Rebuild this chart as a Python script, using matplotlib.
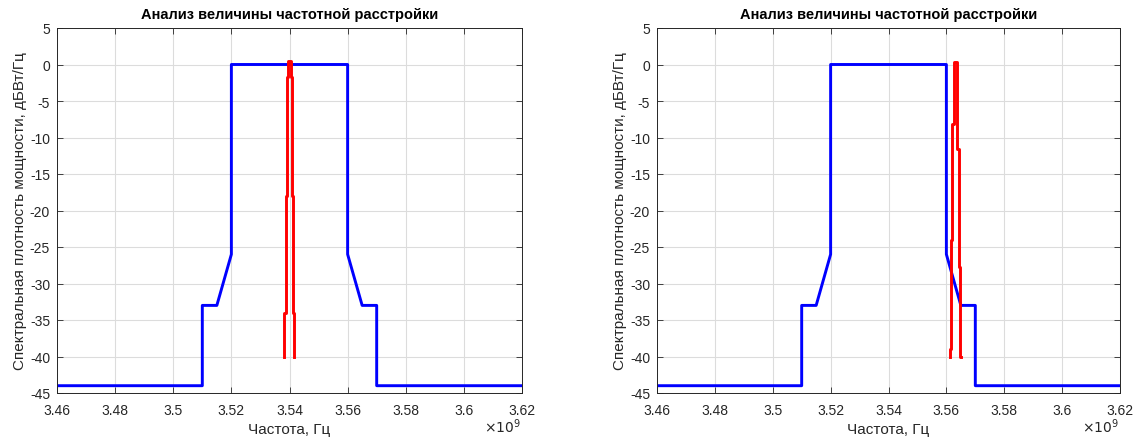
import matplotlib
matplotlib.use('Agg')
import matplotlib.pyplot as plt
from matplotlib.ticker import FuncFormatter, MultipleLocator

plt.rcParams['font.family'] = ['Liberation Sans', 'DejaVu Sans']
plt.rcParams['axes.unicode_minus'] = False

# spectral mask (Hz, dBW/Hz) - same for both panels
mask_f = [3.46e9, 3.51e9, 3.51e9, 3.515e9, 3.52e9, 3.52e9, 3.56e9, 3.56e9,
          3.565e9, 3.57e9, 3.57e9, 3.62e9]
mask_p = [-44, -44, -33, -33, -26, 0, 0, -26, -33, -33, -44, -44]

# signal spectrum, left panel (centred)
sig1_f = [3.5382e9, 3.5382e9, 3.5387e9, 3.5387e9, 3.5390e9, 3.5390e9,
          3.5396e9, 3.5396e9, 3.5404e9, 3.5404e9, 3.5409e9, 3.5409e9,
          3.5413e9, 3.5413e9, 3.5417e9, 3.5417e9]
sig1_p = [-40, -34, -34, -18, -18, -1.7, -1.7, 0.5, 0.5, -1.7, -1.7, -18,
          -18, -34, -34, -40]

# signal spectrum, right panel (detuned)
sig2_f = [3.5611e9, 3.5611e9, 3.5617e9, 3.5617e9, 3.5621e9, 3.5621e9,
          3.5626e9, 3.5626e9, 3.5636e9, 3.5636e9, 3.5642e9, 3.5642e9,
          3.5647e9, 3.5647e9, 3.5650e9, 3.5650e9]
sig2_p = [-40, -39, -39, -24.1, -24.1, -8.2, -8.2, 0.4, 0.4, -11.6, -11.6,
          -27.7, -27.7, -40, -40, -40]

title = 'Анализ величины частотной расстройки'
xlab = 'Частота, Гц'
ylab = 'Спектральная плотность мощности, дБВт/Гц'

fig = plt.figure(figsize=(11.37, 4.39), dpi=100)
ax1 = fig.add_axes([57 / 1137, 45 / 439, 465 / 1137, 365 / 439])
ax2 = fig.add_axes([657 / 1137, 45 / 439, 463 / 1137, 365 / 439])

for ax, sf, sp in [(ax1, sig1_f, sig1_p), (ax2, sig2_f, sig2_p)]:
    ax.plot(mask_f, mask_p, color='blue', lw=2.1)
    ax.plot(sf, sp, color='red', lw=2.1)
    ax.set_xlim(3.46e9, 3.62e9)
    ax.set_ylim(-45, 5)
    ax.xaxis.set_major_locator(MultipleLocator(0.02e9))
    ax.yaxis.set_major_locator(MultipleLocator(5))
    ax.xaxis.set_major_formatter(FuncFormatter(lambda v, p: f'{v / 1e9:g}'))
    ax.grid(True, color='#dcdcdc', lw=0.8)
    ax.set_axisbelow(True)
    ax.tick_params(direction='in', top=True, right=True, labelsize=10,
                   colors='#262626', length=4, width=0.6)
    ax.tick_params(axis='x', pad=7)
    ax.tick_params(axis='y', pad=5)
    for s in ax.spines.values():
        s.set_color('#262626')
        s.set_linewidth(0.7)
    ax.set_title(title, fontsize=10.5, fontweight='bold', pad=7)
    ax.set_xlabel(xlab, fontsize=11, color='#262626', labelpad=4)
    ax.set_ylabel(ylab, fontsize=11, color='#262626', labelpad=2)
    ax.text(0.997, -0.09, r'$\times10^{9}$', transform=ax.transAxes,
            ha='right', va='center', fontsize=10, color='#262626')

fig.savefig('out.png', dpi=100)
